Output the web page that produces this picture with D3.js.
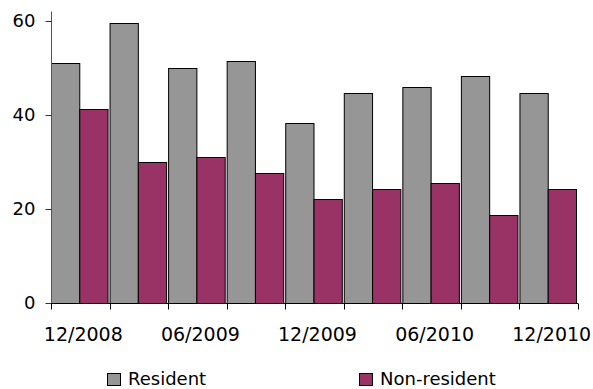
<!DOCTYPE html>
<html><head><meta charset="utf-8">
<script src="https://cdn.jsdelivr.net/npm/d3@7"></script>
<style>body{margin:0;background:#fff}svg{display:block}text{font-family:"DejaVu Sans",Verdana,sans-serif}</style>
</head><body>
<svg id="c" width="593" height="389"></svg>
<script>
const categories = ["12/2008","03/2009","06/2009","09/2009","12/2009","03/2010","06/2010","09/2010","12/2010"];
const labelShown = ["12/2008","06/2009","12/2009","06/2010","12/2010"];
const seriesNames = ["Resident","Non-resident"];
const resident = [51.0,59.5,50.1,51.4,38.2,44.6,45.9,48.4,44.6];
const nonResident = [41.2,30.1,31.0,27.6,22.1,24.2,25.5,18.7,24.2];
const yTicks = [0,20,40,60];
const colors = ["#969696","#993366"];

const svg = d3.select("#c");
const x0 = d3.scaleBand().domain(categories).range([51,578]).padding(0);
const bw = x0.bandwidth();
const x1 = d3.scaleBand().domain(seriesNames).range([0,bw-2]).padding(0);
const y = d3.scaleLinear().domain([0,62]).range([303,11.6]);

const data = categories.map((c,i)=>({c, vals:[resident[i],nonResident[i]]}));

const g = svg.append("g");
g.selectAll("g.cat").data(data).join("g").attr("class","cat")
 .attr("transform",d=>`translate(${x0(d.c)},0)`)
 .selectAll("rect").data(d=>d.vals.map((v,j)=>({v,s:seriesNames[j],j})))
 .join("rect")
 .attr("x",d=>x1(d.s)+0.5)
 .attr("y",d=>Math.round(y(d.v))+0.5)
 .attr("width",x1.bandwidth())
 .attr("height",d=>y(0)-Math.round(y(d.v)))
 .attr("fill",d=>colors[d.j])
 .attr("stroke","#000").attr("stroke-width",1);

// y axis
const ya = svg.append("g").attr("transform","translate(51.5,0)")
 .call(d3.axisLeft(y).tickValues(yTicks).tickSize(6).tickPadding(10).tickFormat(d3.format("d")));
ya.select(".domain").attr("stroke","#555").attr("d",`M-0,${y(62)}V${y(0)}`);
ya.selectAll(".tick line").attr("stroke","#333");
ya.selectAll("text").attr("font-size",18).attr("fill","#000").attr("font-family","DejaVu Sans");

// x axis
const xa = svg.append("g").attr("transform","translate(0,303.5)");
xa.append("line").attr("x1",51).attr("x2",578).attr("stroke","#000");
const bounds = categories.map(c=>x0(c)).concat([x0.range()[1]]);
xa.selectAll("line.t").data(bounds).join("line").attr("class","t")
 .attr("x1",d=>Math.round(d)+0.5).attr("x2",d=>Math.round(d)+0.5).attr("y1",0).attr("y2",6).attr("stroke","#000");
xa.selectAll("text").data(labelShown).join("text")
 .attr("x",d=>x0(d)+bw/2+3).attr("y",37).attr("text-anchor","middle")
 .attr("font-size",19).attr("fill","#000").text(d=>d);

// legend
const legX = [107,359];
const leg = svg.selectAll("g.leg").data(seriesNames).join("g").attr("class","leg")
 .attr("transform",(d,i)=>`translate(${legX[i]},373)`);
leg.append("rect").attr("x",0.5).attr("y",0.5).attr("width",13).attr("height",12)
 .attr("fill",(d,i)=>colors[i]).attr("stroke","#000");
leg.append("text").attr("x",21).attr("y",12).attr("font-size",18).text(d=>d);
</script>
</body></html>
